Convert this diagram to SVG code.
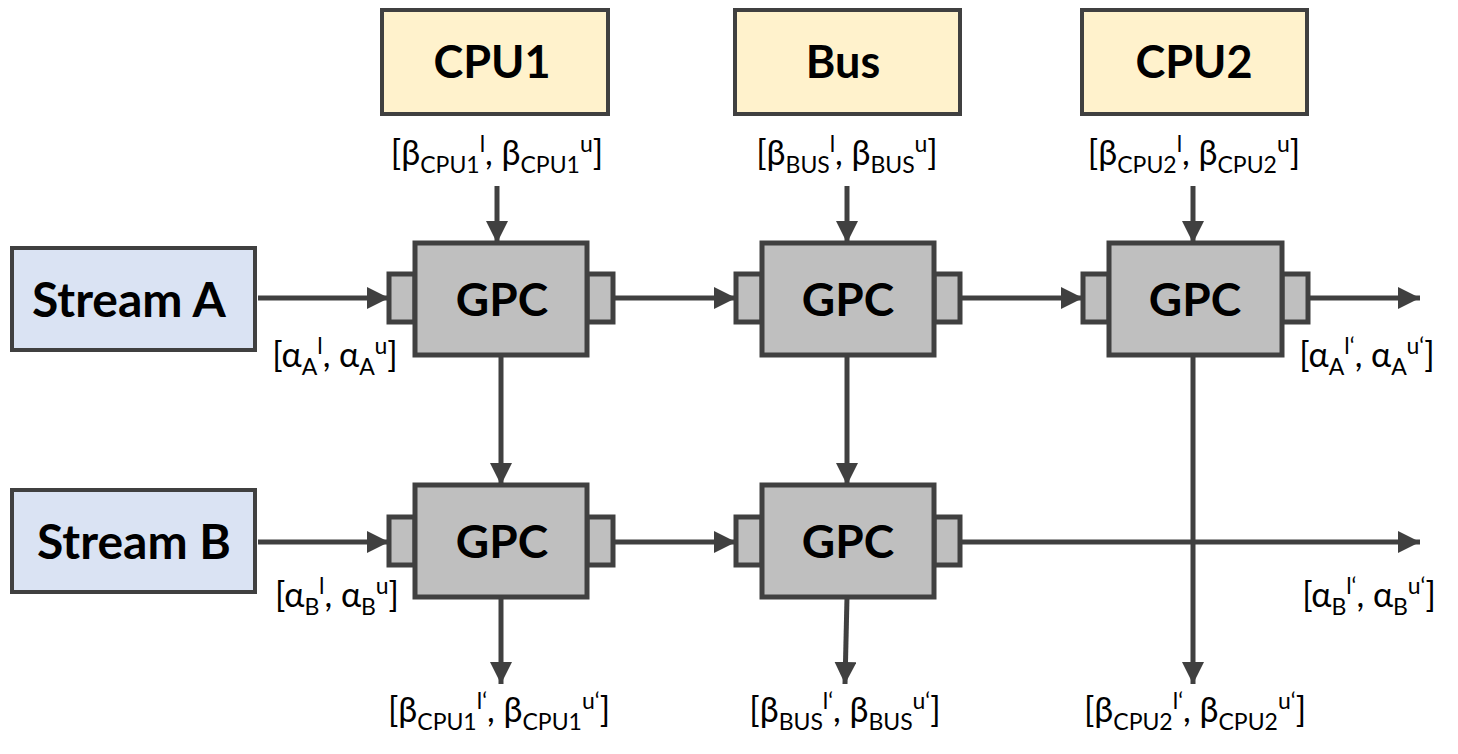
<svg xmlns="http://www.w3.org/2000/svg" width="1458" height="754" viewBox="0 0 1458 754">
<defs>
<marker id="ah" markerUnits="userSpaceOnUse" markerWidth="24" markerHeight="22" refX="22" refY="11" orient="auto">
<path d="M0,0 L22,11 L0,22 Z" fill="#404040"/>
</marker>
<style>
.res{fill:#FFF2CC;stroke:#404040;stroke-width:4}
.str{fill:#DAE3F3;stroke:#404040;stroke-width:4}
.gpc{fill:#BFBFBF;stroke:#404040;stroke-width:5}
.t{font-family:Lato,"Open Sans",sans-serif;font-weight:bold;fill:#000;text-anchor:middle}
.lbl{font-family:Lato,"Open Sans",sans-serif;font-size:34px;fill:#000;text-anchor:middle}
.s{font-size:23px}
.c{fill:none;stroke:#404040;stroke-width:5;marker-end:url(#ah)}
</style>
</defs>
<rect width="1458" height="754" fill="#fff"/>
<g id="connectors">
<line class="c" x1="497" y1="186" x2="497" y2="243"/>
<line class="c" x1="847" y1="186" x2="847" y2="243"/>
<line class="c" x1="1193" y1="186" x2="1193" y2="243"/>
<line class="c" x1="258" y1="298" x2="389" y2="298"/>
<line class="c" x1="613" y1="298" x2="736" y2="298"/>
<line class="c" x1="960" y1="298" x2="1083" y2="298"/>
<line class="c" x1="1309" y1="298" x2="1420" y2="298"/>
<line class="c" x1="258" y1="542" x2="389" y2="542"/>
<line class="c" x1="613" y1="542" x2="736" y2="542"/>
<line class="c" x1="960" y1="542" x2="1420" y2="542"/>
<line class="c" x1="501" y1="355" x2="501" y2="485"/>
<line class="c" x1="847" y1="355" x2="847" y2="485"/>
<line class="c" x1="1193" y1="355" x2="1193" y2="684"/>
<line class="c" x1="501" y1="597" x2="501" y2="684"/>
<line class="c" x1="847" y1="597" x2="845" y2="684"/>
</g>
<g id="cpu1"><rect class="res" x="382" y="10" width="226" height="104"/><text class="t" x="492" y="78" font-size="45">CPU1</text></g>
<g id="bus"><rect class="res" x="735" y="10" width="225" height="104"/><text class="t" x="843" y="78" font-size="45">Bus</text></g>
<g id="cpu2"><rect class="res" x="1082" y="10" width="225" height="104"/><text class="t" x="1194" y="78" font-size="45">CPU2</text></g>
<g id="streamA"><rect class="str" x="12" y="248" width="243" height="102"/><text class="t" x="129" y="317" font-size="48">Stream A</text></g>
<g id="streamB"><rect class="str" x="12" y="490" width="243" height="102"/><text class="t" x="134" y="559" font-size="48">Stream B</text></g>
<g id="gpc1"><rect class="gpc" x="389" y="274" width="26" height="48"/><rect class="gpc" x="587" y="274" width="26" height="48"/><rect class="gpc" x="415" y="243" width="172" height="112"/><text class="t" x="502" y="316" font-size="46">GPC</text></g>
<g id="gpc2"><rect class="gpc" x="736" y="274" width="26" height="48"/><rect class="gpc" x="934" y="274" width="26" height="48"/><rect class="gpc" x="762" y="243" width="172" height="112"/><text class="t" x="848" y="316" font-size="46">GPC</text></g>
<g id="gpc3"><rect class="gpc" x="1083" y="274" width="26" height="48"/><rect class="gpc" x="1282" y="274" width="26" height="48"/><rect class="gpc" x="1109" y="243" width="173" height="112"/><text class="t" x="1195" y="316" font-size="46">GPC</text></g>
<g id="gpc4"><rect class="gpc" x="389" y="517" width="26" height="48"/><rect class="gpc" x="587" y="517" width="26" height="48"/><rect class="gpc" x="415" y="485" width="172" height="112"/><text class="t" x="502" y="558" font-size="46">GPC</text></g>
<g id="gpc5"><rect class="gpc" x="736" y="517" width="26" height="48"/><rect class="gpc" x="934" y="517" width="26" height="48"/><rect class="gpc" x="762" y="485" width="172" height="112"/><text class="t" x="848" y="558" font-size="46">GPC</text></g>
<g id="labels">
<text class="lbl" x="497" y="165">[β<tspan class="s" dy="8">CPU1</tspan><tspan class="s" dy="-21">l</tspan><tspan dy="13">, β</tspan><tspan class="s" dy="8">CPU1</tspan><tspan class="s" dy="-21">u</tspan><tspan dy="13">]</tspan></text>
<text class="lbl" x="847" y="165">[β<tspan class="s" dy="8">BUS</tspan><tspan class="s" dy="-21">l</tspan><tspan dy="13">, β</tspan><tspan class="s" dy="8">BUS</tspan><tspan class="s" dy="-21">u</tspan><tspan dy="13">]</tspan></text>
<text class="lbl" x="1194" y="165">[β<tspan class="s" dy="8">CPU2</tspan><tspan class="s" dy="-21">l</tspan><tspan dy="13">, β</tspan><tspan class="s" dy="8">CPU2</tspan><tspan class="s" dy="-21">u</tspan><tspan dy="13">]</tspan></text>
<text class="lbl" x="335" y="367">[α<tspan class="s" dy="8">A</tspan><tspan class="s" dy="-21">l</tspan><tspan dy="13">, α</tspan><tspan class="s" dy="8">A</tspan><tspan class="s" dy="-21">u</tspan><tspan dy="13">]</tspan></text>
<text class="lbl" x="337" y="607">[α<tspan class="s" dy="8">B</tspan><tspan class="s" dy="-21">l</tspan><tspan dy="13">, α</tspan><tspan class="s" dy="8">B</tspan><tspan class="s" dy="-21">u</tspan><tspan dy="13">]</tspan></text>
<text class="lbl" x="1367" y="367">[α<tspan class="s" dy="8">A</tspan><tspan class="s" dy="-21">l‘</tspan><tspan dy="13">, α</tspan><tspan class="s" dy="8">A</tspan><tspan class="s" dy="-21">u‘</tspan><tspan dy="13">]</tspan></text>
<text class="lbl" x="1369" y="607">[α<tspan class="s" dy="8">B</tspan><tspan class="s" dy="-21">l‘</tspan><tspan dy="13">, α</tspan><tspan class="s" dy="8">B</tspan><tspan class="s" dy="-21">u‘</tspan><tspan dy="13">]</tspan></text>
<text class="lbl" x="499" y="722">[β<tspan class="s" dy="8">CPU1</tspan><tspan class="s" dy="-21">l‘</tspan><tspan dy="13">, β</tspan><tspan class="s" dy="8">CPU1</tspan><tspan class="s" dy="-21">u‘</tspan><tspan dy="13">]</tspan></text>
<text class="lbl" x="845" y="722">[β<tspan class="s" dy="8">BUS</tspan><tspan class="s" dy="-21">l‘</tspan><tspan dy="13">, β</tspan><tspan class="s" dy="8">BUS</tspan><tspan class="s" dy="-21">u‘</tspan><tspan dy="13">]</tspan></text>
<text class="lbl" x="1195" y="722">[β<tspan class="s" dy="8">CPU2</tspan><tspan class="s" dy="-21">l‘</tspan><tspan dy="13">, β</tspan><tspan class="s" dy="8">CPU2</tspan><tspan class="s" dy="-21">u‘</tspan><tspan dy="13">]</tspan></text>
</g>
</svg>
